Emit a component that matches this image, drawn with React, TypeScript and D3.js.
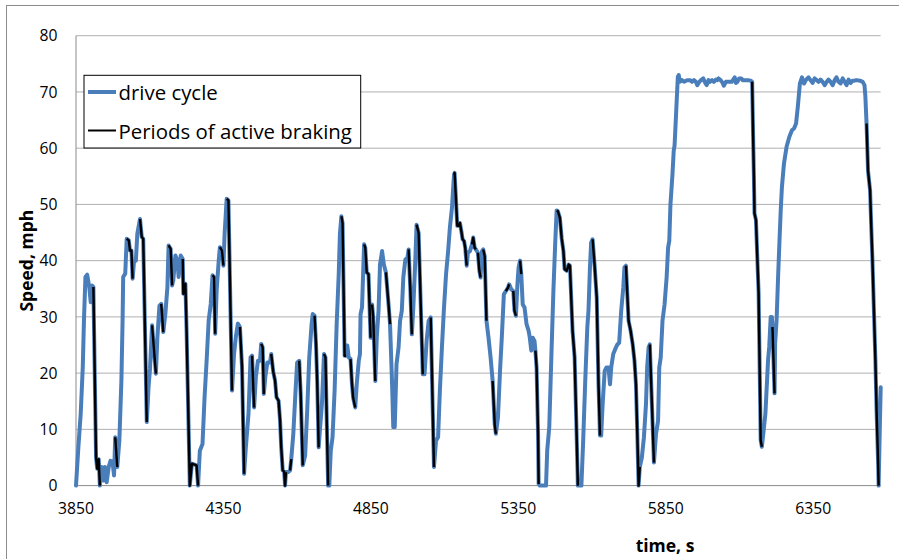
import React from "react";
import * as d3 from "d3";

// Drive cycle speed trace (time in s, speed in mph)
const driveTime: number[] = [
  3850, 3858, 3866, 3873, 3877, 3882, 3888, 3895, 3900, 3904, 3909, 3918, 3922, 3927, 3931,
  3937, 3943, 3948, 3954, 3961, 3967, 3974, 3979, 3983, 3990, 3997, 4004, 4008, 4010, 4017,
  4022, 4029, 4033, 4038, 4042, 4047, 4053, 4058, 4067, 4073, 4078, 4090, 4096, 4101, 4108,
  4112, 4121, 4126, 4133, 4139, 4146, 4153, 4160, 4164, 4171, 4176, 4180, 4187, 4194, 4198,
  4205, 4212, 4214, 4221, 4225, 4236, 4243, 4259, 4264, 4270, 4279, 4286, 4293, 4300, 4307,
  4313, 4318, 4322, 4327, 4334, 4338, 4345, 4350, 4354, 4361, 4367, 4379, 4386, 4392, 4399,
  4406, 4413, 4420, 4426, 4435, 4442, 4447, 4454, 4460, 4467, 4474, 4478, 4483, 4487, 4492,
  4499, 4508, 4512, 4519, 4525, 4530, 4537, 4542, 4546, 4551, 4556, 4559, 4562, 4569, 4576,
  4580, 4587, 4594, 4600, 4607, 4612, 4619, 4627, 4634, 4641, 4649, 4653, 4659, 4664, 4668,
  4673, 4677, 4684, 4691, 4696, 4705, 4709, 4714, 4720, 4727, 4734, 4741, 4745, 4750, 4754,
  4761, 4766, 4770, 4775, 4781, 4786, 4790, 4797, 4802, 4809, 4813, 4815, 4820, 4827, 4831,
  4836, 4842, 4849, 4854, 4858, 4865, 4870, 4876, 4881, 4888, 4894, 4901, 4910, 4915, 4922,
  4926, 4931, 4937, 4944, 4949, 4955, 4960, 4967, 4974, 4978, 4984, 4989, 4994, 5001, 5005,
  5012, 5026, 5032, 5039, 5046, 5053, 5064, 5071, 5078, 5084, 5091, 5098, 5105, 5112, 5118,
  5125, 5132, 5134, 5143, 5148, 5152, 5157, 5161, 5166, 5170, 5175, 5179, 5186, 5193, 5197,
  5202, 5206, 5213, 5218, 5222, 5227, 5231, 5236, 5242, 5249, 5256, 5263, 5270, 5274, 5281,
  5288, 5294, 5301, 5308, 5315, 5319, 5326, 5333, 5337, 5342, 5347, 5351, 5356, 5360, 5365,
  5371, 5378, 5385, 5389, 5394, 5399, 5405, 5408, 5412, 5417, 5419, 5423, 5444, 5448, 5455,
  5462, 5469, 5475, 5480, 5484, 5491, 5497, 5503, 5507, 5514, 5521, 5525, 5534, 5541, 5548,
  5552, 5564, 5570, 5577, 5584, 5588, 5593, 5597, 5602, 5609, 5616, 5622, 5627, 5631, 5636,
  5643, 5649, 5656, 5661, 5665, 5672, 5679, 5686, 5692, 5699, 5706, 5710, 5715, 5724, 5731,
  5738, 5744, 5749, 5753, 5758, 5762, 5769, 5776, 5783, 5787, 5792, 5796, 5810, 5817, 5824,
  5828, 5833, 5839, 5846, 5853, 5858, 5862, 5866, 5873, 5877, 5880, 5885, 5891, 5894, 5898,
  5905, 5912, 5919, 5925, 5932, 5939, 5946, 5952, 5957, 5964, 5971, 5977, 5984, 5989, 5995,
  6000, 6007, 6013, 6020, 6025, 6029, 6036, 6043, 6047, 6054, 6061, 6068, 6074, 6079, 6084,
  6088, 6093, 6099, 6106, 6111, 6120, 6129, 6138, 6143, 6147, 6149, 6151, 6156, 6160, 6165,
  6167, 6169, 6172, 6176, 6181, 6188, 6192, 6197, 6201, 6206, 6210, 6212, 6219, 6221, 6226,
  6231, 6235, 6240, 6244, 6251, 6260, 6269, 6278, 6285, 6292, 6298, 6305, 6312, 6319, 6325,
  6334, 6341, 6348, 6355, 6362, 6368, 6375, 6382, 6389, 6396, 6402, 6409, 6416, 6423, 6429,
  6436, 6443, 6450, 6457, 6463, 6470, 6477, 6484, 6490, 6497, 6509, 6518, 6524, 6527, 6531,
  6536, 6540, 6543, 6547, 6551, 6556, 6561, 6565, 6570, 6572, 6576, 6579,
];

const driveSpeed: number[] = [
  0, 6.8, 12.8, 21.1, 29.4, 37.1, 37.5, 35.3, 32.6, 35.6, 35.3, 5.0, 3.0, 4.7, 0,
  3.3, 0.9, 3.3, 0.6, 3.3, 4.4, 4.2, 1.8, 8.6, 3.3, 8.0, 18.7, 29.4, 37.1, 37.7,
  43.9, 43.6, 41.8, 41.8, 36.8, 40.0, 40.0, 44.8, 47.4, 44.2, 43.9, 11.3, 17.5, 20.8, 28.5,
  25.8, 19.9, 26.4, 32.0, 32.3, 27.3, 30.5, 35.3, 42.7, 42.1, 35.6, 36.5, 40.9, 40.0, 37.1,
  40.9, 40.3, 34.1, 35.9, 27.6, 0, 3.9, 3.6, 0, 6.2, 7.4, 15.7, 22.2, 29.4, 32.3,
  37.4, 37.1, 27.0, 34.7, 40.0, 42.4, 41.8, 39.1, 44.8, 51.0, 50.7, 16.9, 23.4, 26.4, 28.8,
  28.2, 21.1, 2.1, 6.8, 12.8, 22.8, 23.1, 13.9, 19.3, 22.2, 22.2, 25.2, 24.6, 16.3, 19.3,
  21.9, 21.9, 23.4, 20.2, 18.7, 15.7, 15.1, 11.6, 6.8, 2.7, 2.5, 0, 2.4, 2.4, 2.7,
  4.7, 9.2, 16.3, 21.9, 22.2, 16.3, 3.6, 5.3, 13.3, 22.8, 28.7, 30.5, 30.2, 25.1, 18.6,
  6.8, 9.8, 14.5, 23.4, 22.8, 0, 0, 6.2, 8.6, 16.9, 28.7, 37.6, 44.7, 47.9, 46.7,
  23.1, 23.1, 24.9, 22.8, 22.5, 18.0, 15.6, 13.9, 18.0, 22.2, 23.4, 30.5, 31.7, 42.9, 42.3,
  37.9, 37.6, 26.3, 32.2, 29.9, 18.6, 26.3, 31.1, 39.3, 41.7, 39.3, 37.9, 32.2, 28.7, 18.0,
  10.4, 10.4, 21.6, 24.6, 29.3, 31.1, 37.0, 40.2, 40.5, 42.0, 34.6, 26.9, 31.7, 40.5, 46.4,
  44.9, 19.8, 19.8, 25.7, 29.3, 29.9, 3.3, 8.0, 8.6, 16.9, 24.6, 31.7, 37.6, 41.7, 45.9,
  49.4, 55.3, 55.6, 46.2, 46.2, 46.7, 45.2, 43.8, 43.5, 42.3, 39.1, 41.4, 41.7, 42.9, 44.1,
  42.3, 42.0, 41.4, 38.2, 37.0, 41.7, 42.0, 40.8, 29.3, 26.3, 22.8, 18.6, 10.9, 9.2, 12.1,
  20.4, 26.3, 34.0, 34.6, 35.2, 35.8, 34.9, 34.6, 31.1, 30.2, 35.8, 38.8, 40.0, 37.6, 32.2,
  31.7, 28.7, 27.5, 26.3, 24.0, 26.3, 25.7, 24.0, 21.0, 9.2, 0.3, 0, 0, 6.2, 10.4,
  22.8, 34.6, 42.9, 48.9, 48.8, 47.6, 44.0, 41.7, 38.5, 38.2, 39.3, 39.1, 27.5, 22.8, 8.6,
  0, 0, 8.0, 18.6, 28.1, 31.1, 38.8, 43.2, 43.8, 39.0, 33.4, 18.0, 8.9, 8.9, 14.5,
  20.4, 21.0, 21.0, 18.0, 21.0, 23.4, 24.3, 25.1, 25.4, 31.1, 35.2, 38.8, 39.1, 29.3, 27.5,
  25.1, 22.2, 18.0, 10.4, 0, 3.3, 5.0, 8.6, 14.5, 21.0, 24.6, 25.1, 4.1, 9.2, 11.5,
  21.0, 22.8, 29.3, 32.2, 37.0, 42.3, 43.5, 50.0, 55.5, 59.5, 60.5, 66.0, 72.7, 73.0, 71.8,
  72.1, 71.8, 72.0, 72.1, 72.1, 71.8, 72.1, 71.8, 71.2, 71.8, 72.2, 72.4, 71.6, 71.2, 72.1,
  71.8, 72.1, 71.8, 72.2, 72.1, 72.4, 72.1, 71.6, 71.1, 71.8, 71.8, 71.8, 71.8, 72.2, 72.6,
  71.6, 71.8, 72.4, 72.4, 72.1, 72.1, 72.1, 72.0, 71.8, 60.3, 54.9, 48.4, 47.2, 41.3, 34.2,
  26.5, 19.3, 8.1, 6.9, 9.3, 12.8, 17.0, 22.3, 24.7, 30.0, 30.0, 28.2, 16.4, 25.3, 29.5,
  37.1, 42.5, 49.0, 53.1, 57.3, 60.3, 62.0, 63.2, 63.5, 64.4, 67.4, 71.5, 72.6, 71.5, 72.1,
  72.6, 72.1, 71.6, 72.4, 72.1, 71.8, 72.2, 71.8, 71.2, 71.8, 72.2, 71.8, 71.2, 72.1, 72.6,
  71.8, 71.5, 72.4, 71.8, 71.2, 72.2, 71.6, 72.0, 72.0, 72.1, 72.0, 71.8, 71.2, 69.2, 64.4,
  56.0, 54.0, 52.5, 46.0, 40.1, 31.2, 22.3, 13.4, 4.5, 0, 10.4, 17.5,
];

// Periods of active braking (start and end time, s)
const brakeStart: number[] = [
  3909, 3983, 4022, 4067, 4108, 4139, 4164, 4212, 4313, 4338, 4361, 4406, 4447, 4478, 4512,
  4576, 4607, 4659, 4691, 4750, 4781, 4827, 4854, 4901, 4978, 5005, 5053, 5132, 5193, 5213,
  5231, 5263, 5308, 5333, 5356, 5408, 5480, 5602, 5715, 5796, 6143, 6212, 6531,
];
const brakeEnd: number[] = [
  3931, 3990, 4042, 4090, 4121, 4146, 4176, 4264, 4322, 4350, 4379, 4420, 4454, 4487, 4562,
  4580, 4619, 4673, 4705, 4766, 4797, 4849, 4865, 4915, 4989, 5026, 5064, 5175, 5206, 5222,
  5242, 5274, 5319, 5342, 5360, 5419, 5552, 5627, 5762, 5810, 6176, 6219, 6572,
];

const xTicks: number[] = [3850, 4350, 4850, 5350, 5850, 6350];
const yTicks: number[] = [0, 10, 20, 30, 40, 50, 60, 70, 80];

const seriesNames: string[] = ["drive cycle", "Periods of active braking"];
const xTitle = "time, s";
const yTitle = "Speed, mph";

const WIDTH = 899;
const HEIGHT = 559;
const FONT = "'Open Sans', 'DejaVu Sans', sans-serif";
const BLUE = "#4a7ebb";

export default function App() {
  const left = 76;
  const right = 880.7;
  const top = 35.7;
  const bottom = 485.6;

  const x = d3.scaleLinear().domain([3850, 6579]).range([left, right]);
  const y = d3.scaleLinear().domain([0, 80]).range([bottom, top]);

  const drive: [number, number][] = driveTime.map((t, i) => [t, driveSpeed[i]]);
  const speedAt = (t: number) => {
    const i = d3.bisectLeft(driveTime, t);
    if (i <= 0) return driveSpeed[0];
    if (i >= driveTime.length) return driveSpeed[driveSpeed.length - 1];
    const t0 = driveTime[i - 1];
    const t1 = driveTime[i];
    const k = (t - t0) / (t1 - t0);
    return driveSpeed[i - 1] + k * (driveSpeed[i] - driveSpeed[i - 1]);
  };

  const line = d3
    .line<[number, number]>()
    .x((d) => x(d[0]))
    .y((d) => y(d[1]));

  const brakePaths = brakeStart.map((s, i) => {
    const e = brakeEnd[i];
    const pts: [number, number][] = [[s, speedAt(s)]];
    drive.forEach((d) => {
      if (d[0] > s && d[0] < e) pts.push(d);
    });
    pts.push([e, speedAt(e)]);
    return line(pts) || "";
  });

  return (
    <svg
      width={WIDTH}
      height={HEIGHT}
      style={{ position: "absolute", left: 0, top: 0, background: "#fff" }}
      fontFamily={FONT}
    >
      {/* chart frame */}
      <rect x={6.5} y={5.5} width={1000} height={1000} fill="#fff" stroke="#8c8c8c" strokeWidth={1} />

      {/* horizontal gridlines */}
      {yTicks
        .filter((v) => v > 0)
        .map((v) => (
          <line key={v} x1={left} x2={right} y1={y(v)} y2={y(v)} stroke="#b0b0b0" strokeWidth={1} />
        ))}

      {/* axes */}
      <line x1={left} x2={left} y1={top} y2={bottom} stroke="#8a8a8a" strokeWidth={1} />
      <line x1={left} x2={right} y1={bottom} y2={bottom} stroke="#8a8a8a" strokeWidth={1} />

      {/* y tick labels */}
      {yTicks.map((v) => (
        <text key={v} x={57.5} y={y(v)} dy="0.36em" textAnchor="end" fontSize={15.7} fill="#000">
          {v}
        </text>
      ))}

      {/* x tick labels */}
      {xTicks.map((t) => (
        <text key={t} x={x(t)} y={514} textAnchor="middle" fontSize={15.7} fill="#000">
          {t}
        </text>
      ))}

      {/* series */}
      <path
        d={line(drive) || ""}
        fill="none"
        stroke={BLUE}
        strokeWidth={4}
        strokeLinejoin="round"
        strokeLinecap="round"
      />
      {brakePaths.map((p, i) => (
        <path key={i} d={p} fill="none" stroke="#000" strokeWidth={2.4} strokeLinejoin="round" />
      ))}

      {/* axis titles */}
      <text x={665} y={551.5} textAnchor="middle" fontSize={17.5} fontWeight="bold" fill="#000">
        {xTitle}
      </text>
      <text
        transform={`translate(32.5, ${(top + bottom) / 2}) rotate(-90)`}
        textAnchor="middle"
        fontSize={17.5}
        fontWeight="bold"
        fill="#000"
      >
        {yTitle}
      </text>

      {/* legend */}
      <rect x={84} y={75.3} width={276.7} height={72.7} fill="#fff" stroke="#000" strokeWidth={1} />
      <line x1={88} x2={116} y1={92} y2={92} stroke={BLUE} strokeWidth={4} />
      <text x={118.5} y={99.5} fontSize={20.4} fill="#000">
        {seriesNames[0]}
      </text>
      <line x1={88} x2={116} y1={130.5} y2={130.5} stroke="#000" strokeWidth={2} />
      <text x={118.5} y={138.5} fontSize={20.4} fill="#000">
        {seriesNames[1]}
      </text>
    </svg>
  );
}
